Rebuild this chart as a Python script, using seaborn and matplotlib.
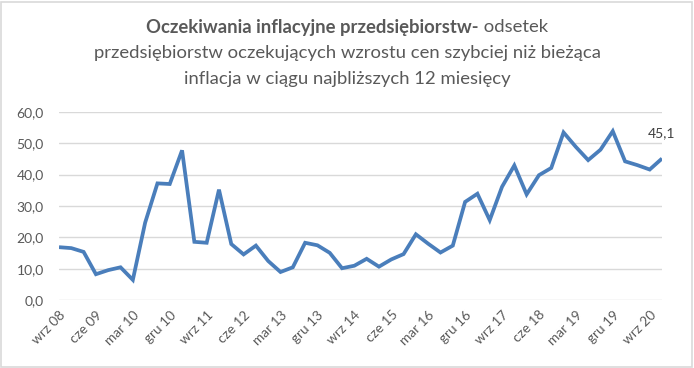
import matplotlib
matplotlib.use("Agg")
import matplotlib.pyplot as plt
import seaborn as sns
import pandas as pd
from matplotlib.patches import Rectangle

# ---- data ----
values = [16.9, 16.6, 15.4, 8.3, 9.6, 10.5, 6.5, 24.7, 37.2, 37.0,
          47.7, 18.6, 18.3, 35.2, 17.9, 14.6, 17.4, 12.5, 9.0, 10.5,
          18.3, 17.5, 15.1, 10.2, 11.0, 13.2, 10.7, 13.0, 14.7, 21.0,
          18.0, 15.2, 17.4, 31.3, 33.9, 25.5, 36.1, 42.9, 33.7, 39.8,
          42.1, 53.4, 48.8, 44.6, 47.9, 53.8, 44.2, 43.0, 41.6, 45.1]
tick_labels = ["wrz 08", "cze 09", "mar 10", "gru 10", "wrz 11", "cze 12",
               "mar 13", "gru 13", "wrz 14", "cze 15", "mar 16", "gru 16",
               "wrz 17", "cze 18", "mar 19", "gru 19", "wrz 20"]
y_ticks = [0, 10, 20, 30, 40, 50, 60]
last_label = "45,1"
title_bold = "Oczekiwania inflacyjne przedsiębiorstw-"
title_rest = " odsetek"
title_line2 = "przedsiębiorstw oczekujących wzrostu cen szybciej niż bieżąca"
title_line3 = "inflacja w ciągu najbliższych 12 miesięcy"

df = pd.DataFrame({"idx": range(len(values)), "val": values})

sns.set_theme(style="white")
plt.rcParams["font.family"] = ["Lato", "DejaVu Sans"]

W, H = 694, 368
fig = plt.figure(figsize=(W / 100, H / 100), dpi=100)
ax = fig.add_axes([59 / W, 1 - 300.3 / H, (662 - 59) / W, (300.3 - 111.7) / H])

LINE = "#4A7EBB"
GRAY = "#595959"

sns.lineplot(data=df, x="idx", y="val", ax=ax, color=LINE, linewidth=2.7,
             solid_joinstyle="miter", solid_capstyle="butt")

ax.set_xlim(0, len(values) - 1)
ax.set_ylim(0, 60)
ax.set_yticks(y_ticks)
ax.set_yticklabels([f"{v:.1f}".replace(".", ",") for v in y_ticks])
ax.set_xticks(range(0, len(values), 3))
ax.set_xticklabels(tick_labels, rotation=45, ha="right", rotation_mode="anchor")
ax.tick_params(axis="x", length=0, pad=6, labelsize=9.8, labelcolor=GRAY)
ax.tick_params(axis="y", length=0, pad=11, labelsize=10, labelcolor=GRAY)
ax.grid(axis="y", color="#D9D9D9", linewidth=1.0)
ax.set_axisbelow(True)
for s in ax.spines.values():
    s.set_visible(False)
ax.set_xlabel("")
ax.set_ylabel("")

# data label on last point
ax.annotate(last_label, (len(values) - 1, values[-1]), xytext=(0, 14),
            textcoords="offset points", ha="center", va="bottom",
            fontsize=10, color="#404040")

# title
fs = 13.3
cx = 347 / W
t1b = fig.text(0, 1 - 27 / H, title_bold, fontsize=fs, fontweight="bold",
               color=GRAY, ha="left", va="center")
t1r = fig.text(0, 1 - 27 / H, title_rest, fontsize=fs, color=GRAY,
               ha="left", va="center")
fig.canvas.draw()
r = fig.canvas.get_renderer()
wb = t1b.get_window_extent(r).width
wr = t1r.get_window_extent(r).width
start = cx * W - (wb + wr) / 2
t1b.set_x(start / W)
t1r.set_x((start + wb) / W)
fig.text(cx, 1 - 53 / H, title_line2, fontsize=fs, color=GRAY, ha="center", va="center")
fig.text(cx, 1 - 79 / H, title_line3, fontsize=fs, color=GRAY, ha="center", va="center")

# chart border
fig.patches.append(Rectangle((1 / W, 1 / H), (W - 3) / W, (H - 3) / H,
                             transform=fig.transFigure, fill=False,
                             edgecolor="#D9D9D9", linewidth=1.2))

fig.savefig("out.png", dpi=100)
